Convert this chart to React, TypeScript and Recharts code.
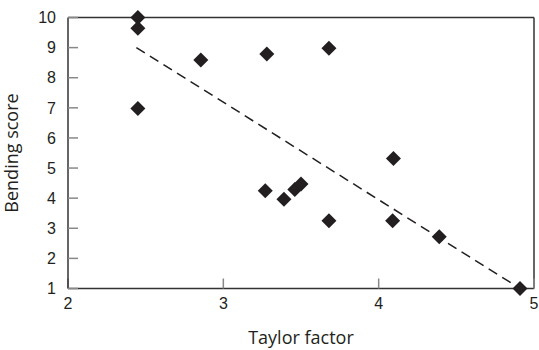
import React from 'react';
import { ScatterChart, Scatter, XAxis, YAxis, ReferenceLine } from 'recharts';

const taylorFactor = [2.45, 2.45, 2.45, 2.855, 3.28, 3.68, 3.27, 3.39, 3.46, 3.5, 3.68, 4.095, 4.09, 4.39, 4.91];
const bendingScore = [10.0, 9.64, 6.98, 8.59, 8.79, 8.98, 4.25, 3.96, 4.29, 4.47, 3.25, 5.32, 3.25, 2.72, 1.0];

const xTicks = [2, 3, 4, 5];
const yTicks = [1, 2, 3, 4, 5, 6, 7, 8, 9, 10];

const trendX = [2.44, 4.91];
const trendY = [9.0, 1.0];

const points = taylorFactor.map((x, i) => ({ x, y: bendingScore[i] }));

const INK = '#231f20';

const Diamond = (props: any) => {
  const { cx, cy } = props;
  const r = 7.5;
  return (
    <polygon
      points={`${cx},${cy - r} ${cx + r},${cy} ${cx},${cy + r} ${cx - r},${cy}`}
      fill={INK}
    />
  );
};

const tickFont = { fontFamily: 'Liberation Sans, Arial, sans-serif', fontSize: 16, fill: INK };
const titleStyle = { fontFamily: '"Open Sans", sans-serif', fontSize: 18, fill: INK };

export default function App() {
  return (
    <div style={{ position: 'absolute', left: 0, top: 0 }}>
      <ScatterChart width={539} height={350} margin={{ top: 17.5, right: 5, bottom: 0, left: 0 }}>
        <XAxis
          type="number"
          dataKey="x"
          domain={[xTicks[0], xTicks[xTicks.length - 1]]}
          ticks={xTicks}
          height={61.5}
          tick={tickFont}
          tickSize={-10}
          tickMargin={19}
          axisLine={{ stroke: '#333', strokeWidth: 1.5 }}
          tickLine={{ stroke: '#888', strokeWidth: 1.5 }}
          label={{ value: 'Taylor factor', position: 'insideBottom', offset: 6, style: titleStyle }}
        />
        <YAxis
          type="number"
          dataKey="y"
          domain={[yTicks[0], yTicks[yTicks.length - 1]]}
          ticks={yTicks}
          width={68}
          tick={tickFont}
          tickSize={-10}
          tickMargin={22}
          axisLine={{ stroke: '#333', strokeWidth: 1.5 }}
          tickLine={{ stroke: '#888', strokeWidth: 1.5 }}
          label={{
            value: 'Bending score',
            angle: -90,
            position: 'insideLeft',
            offset: 12,
            style: { ...titleStyle, textAnchor: 'middle' },
          }}
        />
        <ReferenceLine y={yTicks[yTicks.length - 1]} stroke="#333" strokeWidth={1.5} />
        <ReferenceLine x={xTicks[xTicks.length - 1]} stroke="#333" strokeWidth={1.5} />
        <ReferenceLine
          segment={[
            { x: trendX[0], y: trendY[0] },
            { x: trendX[1], y: trendY[1] },
          ]}
          stroke={INK}
          strokeWidth={1.5}
          strokeDasharray="10 6"
        />
        <Scatter data={points} shape={Diamond} isAnimationActive={false} />
      </ScatterChart>
    </div>
  );
}
